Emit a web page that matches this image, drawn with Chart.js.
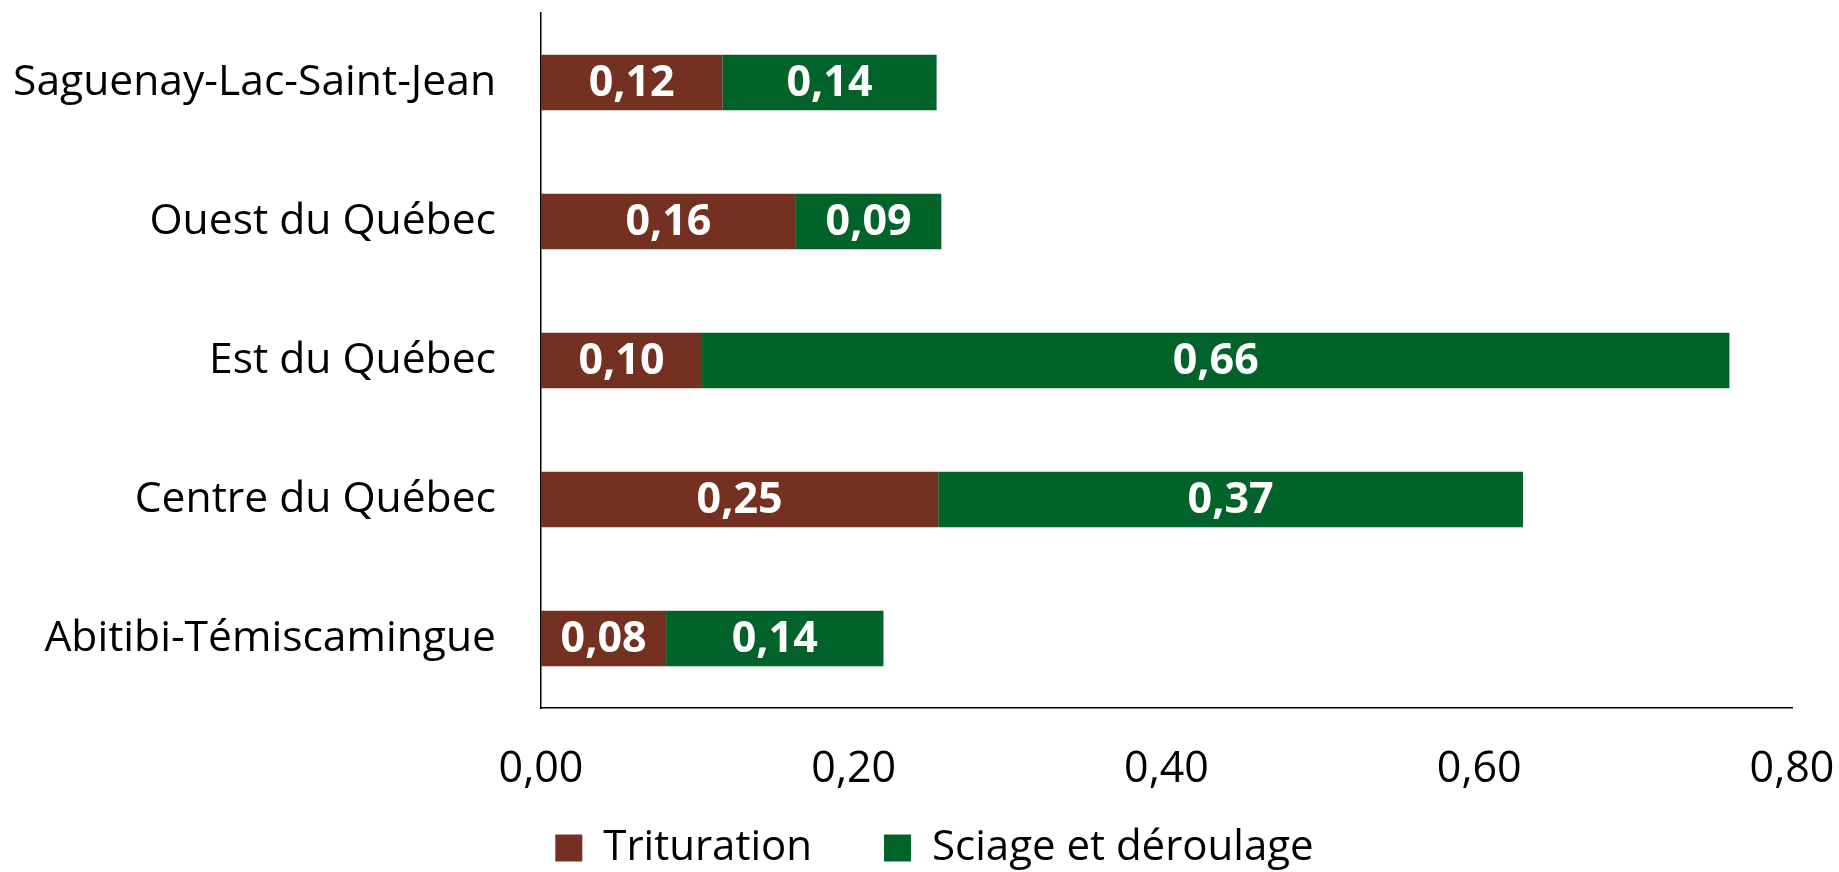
<!DOCTYPE html>
<html>
<head>
<meta charset="utf-8">
<script src="https://cdn.jsdelivr.net/npm/chart.js@4"></script>
<style>
  html, body { margin: 0; padding: 0; background: #fff; }
  #wrap { width: 1839px; height: 872px; position: relative; }
</style>
</head>
<body>
<div id="wrap"><canvas id="c" width="1839" height="872"></canvas></div>
<script>
const categories = ['Saguenay-Lac-Saint-Jean', 'Ouest du Québec', 'Est du Québec', 'Centre du Québec', 'Abitibi-Témiscamingue'];
const trituration = [0.116, 0.163, 0.103, 0.254, 0.080];
const sciage = [0.137, 0.093, 0.657, 0.374, 0.139];
const seriesNames = ['Trituration', 'Sciage et déroulage'];
const xTicks = [0, 0.2, 0.4, 0.6, 0.8];

const FONT = "'Open Sans', 'Noto Sans', sans-serif";
const fmt = v => v.toFixed(2).replace('.', ',');

const barLabels = {
  id: 'barLabels',
  afterDatasetsDraw(chart) {
    const ctx = chart.ctx;
    ctx.save();
    ctx.font = 'bold 43px ' + FONT;
    ctx.fillStyle = '#ffffff';
    ctx.textAlign = 'center';
    ctx.textBaseline = 'middle';
    chart.data.datasets.forEach((ds, i) => {
      const meta = chart.getDatasetMeta(i);
      meta.data.forEach((bar, j) => {
        const p = bar.getProps(['x', 'y', 'base'], true);
        ctx.fillText(fmt(ds.data[j]), (p.x + p.base) / 2, p.y + 1);
      });
    });
    ctx.restore();
  }
};

const legendTweak = {
  id: 'legendTweak',
  beforeLayout(chart) {
    const lg = chart.legend;
    if (lg && !lg.__patched) {
      const f = lg.fit;
      lg.fit = function () { f.call(this); this.height = 117; };
      lg.__patched = true;
    }
  },
  afterLayout(chart) {
    if (chart.legend) { chart.legend.left += 30; }
  }
};

new Chart(document.getElementById('c'), {
  type: 'bar',
  data: {
    labels: categories,
    datasets: [
      { label: seriesNames[0], data: trituration, backgroundColor: '#743021', categoryPercentage: 0.4, barPercentage: 1 },
      { label: seriesNames[1], data: sciage, backgroundColor: '#02632A', categoryPercentage: 0.4, barPercentage: 1 }
    ]
  },
  options: {
    indexAxis: 'y',
    responsive: false,
    animation: false,
    devicePixelRatio: 1,
    layout: { padding: { top: 13, right: 0, left: 0, bottom: 0 } },
    plugins: {
      legend: {
        position: 'bottom',
        labels: {
          font: { family: FONT, size: 42 },
          color: '#000',
          boxWidth: 27,
          boxHeight: 27,
          padding: 72
        }
      },
      tooltip: { enabled: false }
    },
    scales: {
      x: {
        stacked: true,
        min: 0,
        max: 0.8,
        afterBuildTicks: s => { s.ticks = xTicks.map(v => ({ value: v })); },
        ticks: {
          callback: v => fmt(v),
          font: { family: FONT, size: 43 },
          color: '#000',
          padding: 36,
          maxRotation: 0
        },
        grid: { display: false, drawTicks: false },
        border: { display: true, color: '#000', width: 1.5 },
        afterFit: s => {
          s.height = 47;
          s.paddingLeft = 0;
          s.paddingRight = 47;
          s._computeLabelArea = () => undefined;
        }
      },
      y: {
        stacked: true,
        ticks: {
          font: { family: FONT, size: 42.6 },
          color: '#000',
          padding: 45
        },
        grid: { display: false, drawTicks: false },
        border: { display: true, color: '#000', width: 1.5 },
        afterFit: s => {
          s.width = 541;
          s.paddingTop = 0;
          s.paddingBottom = 0;
        }
      }
    }
  },
  plugins: [barLabels, legendTweak]
});
</script>
</body>
</html>
